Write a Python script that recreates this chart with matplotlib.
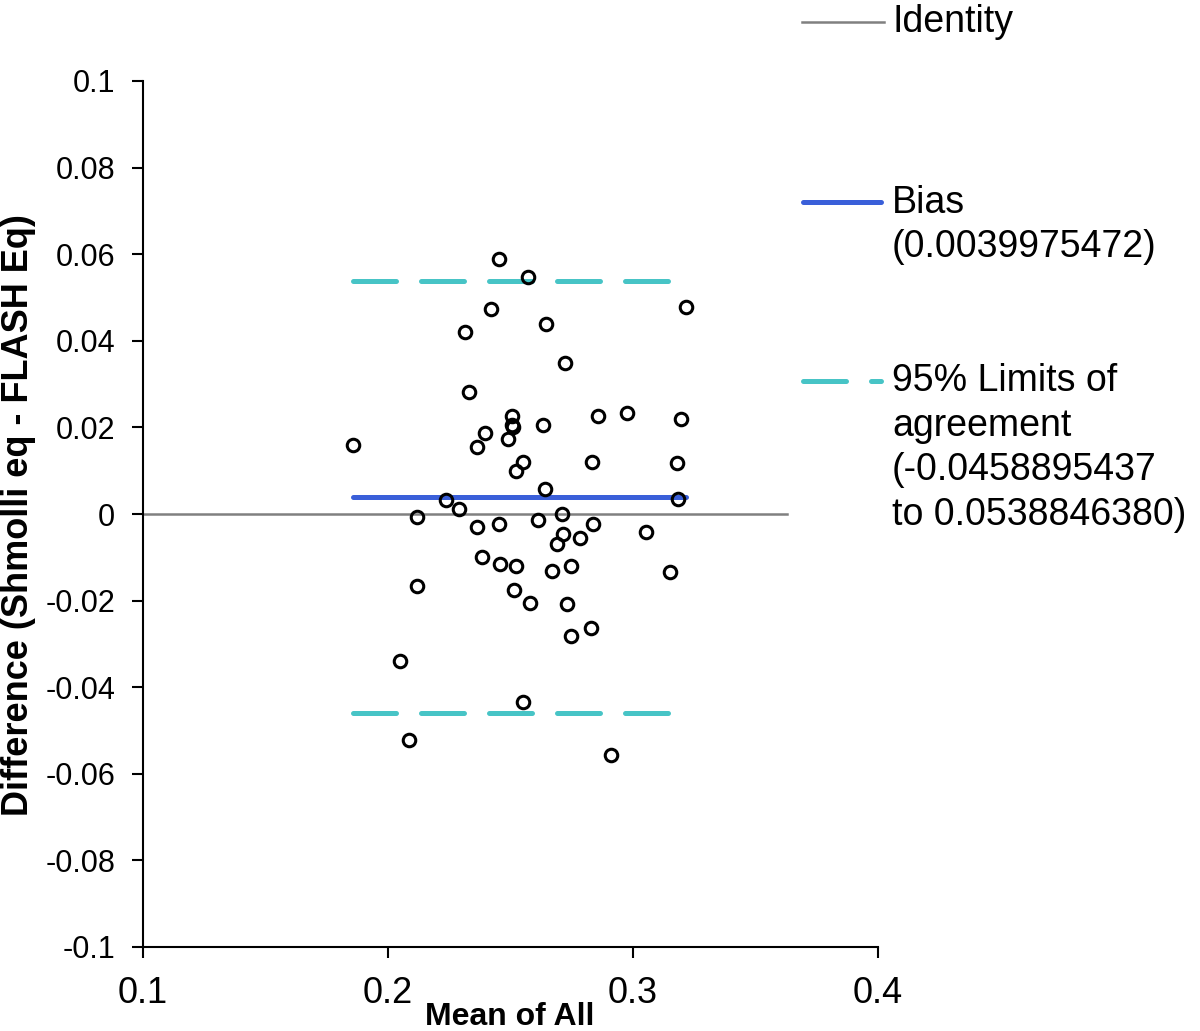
import numpy as np
import matplotlib.pyplot as plt
from matplotlib.lines import Line2D

# Bland-Altman data
mean_all = [0.2453, 0.2571, 0.2420, 0.3216, 0.2645, 0.2313, 0.2721, 0.2332,
            0.2508, 0.2505, 0.2510, 0.2858, 0.2977, 0.3196, 0.2634, 0.1856,
            0.2395, 0.2365, 0.2490, 0.2551, 0.2521, 0.2834, 0.3178, 0.2640,
            0.3184, 0.2238, 0.2288, 0.2120, 0.2363, 0.2452, 0.2614, 0.2709,
            0.2838, 0.2716, 0.2784, 0.2690, 0.3053, 0.2382, 0.2457, 0.2521,
            0.2671, 0.2746, 0.3151, 0.2120, 0.2513, 0.2581, 0.2732, 0.2827,
            0.2746, 0.2049, 0.2551, 0.2087, 0.2909]
difference = [0.0590, 0.0548, 0.0473, 0.0477, 0.0438, 0.0421, 0.0349, 0.0282,
              0.0227, 0.0206, 0.0200, 0.0227, 0.0234, 0.0219, 0.0206, 0.0159,
              0.0188, 0.0155, 0.0173, 0.0121, 0.0100, 0.0121, 0.0117, 0.0057,
              0.0035, 0.0032, 0.0012, -0.0006, -0.0031, -0.0022, -0.0014, 0.0000,
              -0.0022, -0.0046, -0.0056, -0.0069, -0.0042, -0.0099, -0.0116, -0.0120,
              -0.0131, -0.0120, -0.0134, -0.0166, -0.0176, -0.0205, -0.0209, -0.0264,
              -0.0282, -0.0339, -0.0434, -0.0522, -0.0557]
bias = 0.0039975472
loa_low = -0.0458895437
loa_high = 0.0538846380
identity_x = [0.1, 0.363]

xticks = [0.1, 0.2, 0.3, 0.4]
xtick_labels = ['0.1', '0.2', '0.3', '0.4']
yticks = [0.1, 0.08, 0.06, 0.04, 0.02, 0, -0.02, -0.04, -0.06, -0.08, -0.1]
ytick_labels = ['0.1', '0.08', '0.06', '0.04', '0.02', '0',
                '-0.02', '-0.04', '-0.06', '-0.08', '-0.1']

BLUE = '#3a5fd9'
CYAN = '#47c4c6'
GREY = '#808080'

plt.rcParams['font.family'] = ['Liberation Sans', 'DejaVu Sans']

W, H = 1200, 1031
fig = plt.figure(figsize=(W / 100, H / 100), dpi=100)
ax = fig.add_axes([143 / W, 1 - 947 / H, 735 / W, 866 / H])

x_lo, x_hi = min(mean_all), max(mean_all)
ax.plot(identity_x, [0, 0], color=GREY, lw=1.8, zorder=1)
ax.plot([x_lo, x_hi], [bias, bias], color=BLUE, lw=3.6,
        solid_capstyle='round', zorder=2)
for lim in (loa_low, loa_high):
    ax.plot([x_lo, x_hi], [lim, lim], color=CYAN, lw=3.6,
            dashes=(8.6, 5.0), dash_capstyle='round', zorder=2)
ax.plot(mean_all, difference, 'o', ms=9, mfc='none', mec='black',
        mew=2.2, zorder=3)

ax.set_xlim(0.1, 0.4)
ax.set_ylim(-0.1, 0.1)
ax.set_xticks(xticks)
ax.set_xticklabels(xtick_labels)
ax.set_yticks(yticks)
ax.set_yticklabels(ytick_labels)
ax.tick_params(axis='x', direction='out', length=8, width=1.5, pad=13,
               labelsize=26)
ax.tick_params(axis='y', direction='out', length=8, width=1.5, pad=12,
               labelsize=22)
for side in ('top', 'right'):
    ax.spines[side].set_visible(False)
for side in ('left', 'bottom'):
    ax.spines[side].set_linewidth(1.5)

# axis titles
fig.text(19 / W, 1 - 515 / H, 'Difference (Shmolli eq - FLASH Eq)',
         rotation=90, ha='center', va='center', fontsize=26, fontweight='bold')
fig.text(510 / W, 1 - 1025 / H, 'Mean of All', ha='center', va='baseline',
         fontsize=23, fontweight='bold')

# legend, drawn in figure pixels to match the reference layout
def fx(px):
    return px / W

def fy(py):
    return 1 - py / H

fig.add_artist(Line2D([fx(802), fx(884)], [fy(22), fy(22)], color=GREY, lw=1.8))
fig.add_artist(Line2D([fx(803), fx(881)], [fy(202), fy(202)], color=BLUE, lw=3.6,
                      solid_capstyle='round'))
fig.add_artist(Line2D([fx(803), fx(881)], [fy(381), fy(381)], color=CYAN, lw=3.6,
                      dashes=(8.6, 5.0), dash_capstyle='round'))

legend_lines = [(22, 'Identity'),
                (203, 'Bias'), (247, '(0.0039975472)'),
                (381, '95% Limits of'), (426, 'agreement'),
                (470, '(-0.0458895437'), (515, 'to 0.0538846380)')]
for py, txt in legend_lines:
    fig.text(fx(892), fy(py), txt, ha='left', va='center', fontsize=27)

fig.savefig('out.png', dpi=100)
